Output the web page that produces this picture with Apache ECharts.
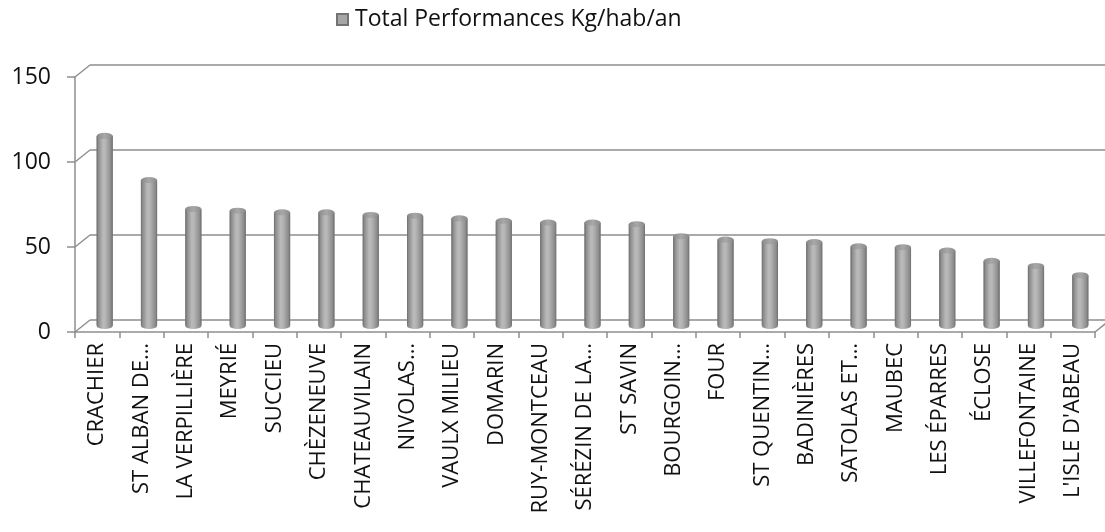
<!DOCTYPE html>
<html>
<head>
<meta charset="utf-8">
<script src="https://cdn.jsdelivr.net/npm/echarts@6/dist/echarts.min.js"></script>
<style>html,body{margin:0;padding:0;background:#fff}#c{width:1105px;height:532px}</style>
</head>
<body>
<div id="c"></div>
<script>
const categories = ['CRACHIER','ST ALBAN DE…','LA VERPILLIÈRE','MEYRIÉ','SUCCIEU','CHÈZENEUVE','CHATEAUVILAIN','NIVOLAS…','VAULX MILIEU','DOMARIN','RUY-MONTCEAU','SÉRÉZIN DE LA…','ST SAVIN','BOURGOIN…','FOUR','ST QUENTIN…','BADINIÈRES','SATOLAS ET…','MAUBEC','LES ÉPARRES','ÉCLOSE','VILLEFONTAINE',"L'ISLE D'ABEAU"];
const totalPerformances = [112, 86, 69, 68, 67, 67, 65.5, 65, 63.5, 62, 61, 61, 60, 53, 51, 50, 49.5, 47, 46.5, 44.5, 38.5, 35.5, 30];
const seriesName = 'Total Performances Kg/hab/an';
const yTicks = [0, 50, 100, 150];

// layout (3D-like offset: back wall shifted right 15px and up 12px)
const W = 1105, H = 532;
const front = {left: 75, right: 10, top: 77, bottom: 200};
const dx = 15, dy = 12;
const back = {left: front.left + dx, right: front.right - dx, top: front.top - dy, bottom: front.bottom + dy};
const mid = {left: front.left + dx/2, right: front.right - dx/2, top: front.top - dy/2, bottom: front.bottom + dy/2};
const lineColor = '#8e8e8e';
const font = 'Open Sans';

const chart = echarts.init(document.getElementById('c'));
const barGrad = new echarts.graphic.LinearGradient(0, 0, 1, 0, [
  {offset: 0, color: '#7c7c7c'},
  {offset: 0.4, color: '#bababa'},
  {offset: 0.55, color: '#b5b5b5'},
  {offset: 1, color: '#7e7e7e'}
]);
const topGrad = new echarts.graphic.LinearGradient(0, 0, 1, 0, [
  {offset: 0, color: '#8a8a8a'},
  {offset: 0.5, color: '#a8a8a8'},
  {offset: 1, color: '#8a8a8a'}
]);

const yBase = {type: 'value', min: 0, max: 150, interval: 50};
chart.setOption({
  animation: false,
  textStyle: {fontFamily: font},
  legend: {
    top: 3, left: 331,
    icon: 'rect', itemWidth: 11, itemHeight: 11, itemGap: 6,
    textStyle: {fontSize: 23, color: '#111', fontFamily: font, padding: [0, 0, 0, 2]},
    data: [{name: seriesName, itemStyle: {color: '#a6a6a6'}}]
  },
  grid: [
    Object.assign({}, back),
    Object.assign({}, front),
    Object.assign({}, mid)
  ],
  xAxis: [
    {gridIndex: 0, type: 'category', data: categories, show: false},
    {gridIndex: 1, type: 'category', data: categories,
      axisLine: {show: true, lineStyle: {color: lineColor, width: 1.5}},
      axisTick: {show: true, length: 6, lineStyle: {color: lineColor, width: 1.5}},
      axisLabel: {rotate: 90, interval: 0, fontSize: 22, color: '#111', margin: 11, fontFamily: font},
      splitLine: {show: false}},
    {gridIndex: 2, type: 'category', data: categories, show: false}
  ],
  yAxis: [
    Object.assign({gridIndex: 0}, yBase, {
      axisLine: {show: false}, axisTick: {show: false}, axisLabel: {show: false},
      splitLine: {show: true, lineStyle: {color: lineColor, width: 1.5}}}),
    Object.assign({gridIndex: 1}, yBase, {
      axisLine: {show: true, lineStyle: {color: lineColor, width: 1.5}},
      axisTick: {show: true, length: 8, lineStyle: {color: lineColor, width: 1.5}},
      axisLabel: {fontSize: 23, color: '#111', margin: 24, fontFamily: font},
      splitLine: {show: false}}),
    Object.assign({gridIndex: 2}, yBase, {show: false, splitLine: {show: false}})
  ],
  series: [
    {name: seriesName, type: 'bar', xAxisIndex: 2, yAxisIndex: 2, data: totalPerformances,
      barWidth: 16, z: 3,
      itemStyle: {color: barGrad, borderColor: '#737373', borderWidth: 0.8}},
    {type: 'pictorialBar', xAxisIndex: 2, yAxisIndex: 2, data: totalPerformances,
      symbol: 'circle', symbolSize: [16, 6], symbolOffset: [0, '50%'], symbolPosition: 'start', z: 4,
      itemStyle: {color: barGrad}, silent: true},
    {type: 'pictorialBar', xAxisIndex: 2, yAxisIndex: 2, data: totalPerformances,
      symbol: 'circle', symbolSize: [16, 6], symbolOffset: [0, '-50%'], symbolPosition: 'end', z: 5,
      itemStyle: {color: topGrad, borderColor: '#6e6e6e', borderWidth: 0.8}, silent: true}
  ]
});

// connectors between front plane and back wall
const gfx = [];
const ls = {stroke: lineColor, lineWidth: 1.5};
yTicks.forEach(v => {
  const yf = chart.convertToPixel({yAxisIndex: 1}, v);
  const yb = chart.convertToPixel({yAxisIndex: 0}, v);
  gfx.push({type: 'line', shape: {x1: front.left, y1: yf, x2: back.left, y2: yb}, style: ls, silent: true});
});
{
  const yf = chart.convertToPixel({yAxisIndex: 1}, 0);
  const yb = chart.convertToPixel({yAxisIndex: 0}, 0);
  gfx.push({type: 'line', shape: {x1: W - front.right, y1: yf, x2: W - front.right + dx, y2: yb}, style: ls, silent: true});
}
chart.setOption({graphic: gfx});
</script>
</body>
</html>
